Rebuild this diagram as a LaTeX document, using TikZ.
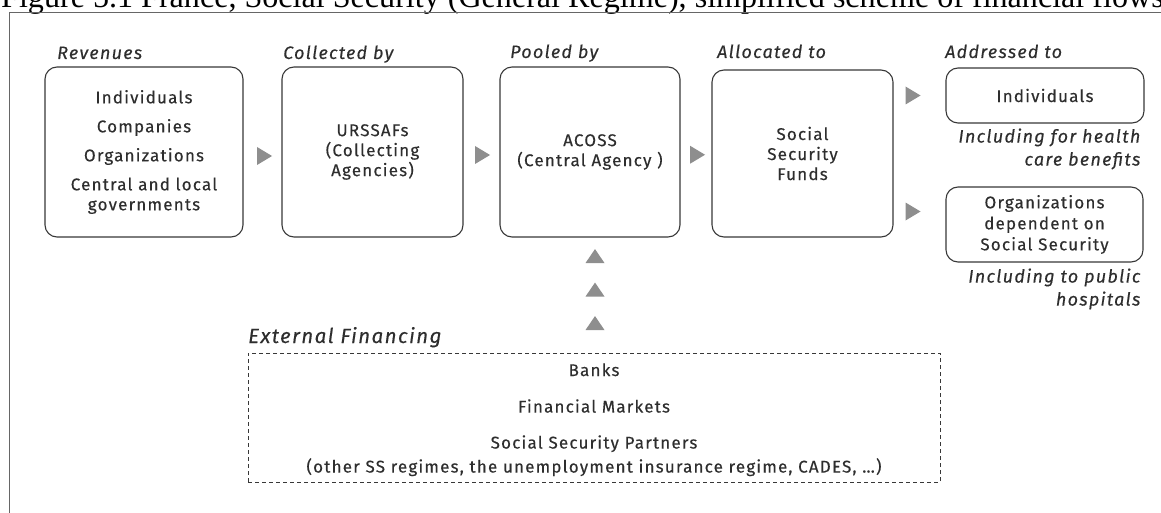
\documentclass[tikz,border=0pt]{standalone}
\usepackage{fontspec}
\setmainfont{Fira Sans}[LetterSpace=7,FakeBold=0.3]
\newfontfamily\titlefont{Liberation Serif}
\usetikzlibrary{calc}
\definecolor{txt}{HTML}{2E2E2E}
\definecolor{boxline}{HTML}{383838}
\definecolor{trigray}{HTML}{8E8E8E}
\definecolor{framegray}{HTML}{666666}
\newcommand\mybody{\fontsize{17}{20}\selectfont}
\newcommand\mylabel{\fontsize{18}{22}\selectfont\itshape}
\newcommand\mybig{\fontsize{20.5}{24}\selectfont\itshape}
\begin{document}
\begin{tikzpicture}[x=1pt,y=-1pt,
  box/.style={draw=boxline, line width=1.1pt, rounded corners=12pt, align=center, text=txt, inner sep=0pt, font=\mybody},
  lbl/.style={anchor=base west, inner sep=0pt, text=txt, font=\mylabel},
  captxt/.style={anchor=base east, inner sep=0pt, text=txt, font=\mylabel},
  etxt/.style={anchor=base, inner sep=0pt, text=txt, font=\mybody},
  rtri/.pic={\fill[trigray] (-7.5,-9) -- (7.5,0) -- (-7.5,9) -- cycle;},
  utri/.pic={\fill[trigray] (-9.5,7) -- (0,-7) -- (9.5,7) -- cycle;}
]
\useasboundingbox (0,0) rectangle (1161,513);
% title and frame
\node[anchor=base west, inner sep=0pt, font=\titlefont\fontsize{32.1}{36}\selectfont] (title) at (1,7.5)
  {Figure 5.1 France, Social Security (General Regime), simplified scheme of financial flows};
\coordinate (frbl) at (9.5,520);
\coordinate (frtl) at (9.5,12.5);
\coordinate (frtr) at (1170,12.5);
\draw[framegray, line width=1.3pt] (frbl) -- (frtl) -- (frtr);
% boxes
\node[box, minimum width=198, minimum height=170] (rev) at (144,152)
  {Individuals\\[9pt]Companies\\[9pt]Organizations\\[9pt]Central and local\\governments};
\node[box, minimum width=181, minimum height=170] (urs) at (372.5,152)
  {URSSAFs\\(Collecting\\Agencies)};
\node[box, minimum width=180, minimum height=170] (acoss) at (590,152)
  {ACOSS\\(Central Agency )};
\node[box, minimum width=181, minimum height=167] (funds) at (802.5,153.5)
  {Social\\Security\\Funds};
\node[box, minimum width=198, minimum height=55] (ind) at (1045,95.5)
  {Individuals};
\node[box, minimum width=197, minimum height=75] (org) at (1044.5,224.5)
  {Organizations\\[1pt]dependent on\\[1pt]Social Security};
\node[draw=boxline, line width=0.9pt, dash pattern=on 4pt off 3pt, inner sep=0pt,
      minimum width=692, minimum height=129] (ext) at (594,417.5) {};
\node[etxt] (e1) at ($(ext.north)+(0,23.5)$) {Banks};
\node[etxt] (e2) at ($(ext.north)+(0,60)$) {Financial Markets};
\node[etxt] (e3) at ($(ext.north)+(0,96)$) {Social Security Partners};
\node[etxt] (e4) at ($(ext.north)+(0,120)$) {(other SS regimes, the unemployment insurance regime, CADES, \ldots)};
% labels
\node[lbl] (lrev) at (57,59) {Revenues};
\node[lbl] (lurs) at (283,59) {Collected by};
\node[lbl] (lacoss) at (510,58) {Pooled by};
\node[lbl] (lfunds) at (717,58) {Allocated to};
\node[lbl] (lind) at (945,58) {Addressed to};
\node[lbl, font=\mybig] (lext) at (248,343) {External Financing};
\node[captxt] (cind1) at ($(ind.south east)+(-4,19)$) {Including for health};
\node[captxt] (cind2) at ($(ind.south east)+(-4,42)$) {care benefits};
\node[captxt] (corg1) at ($(org.south east)+(-3,20)$) {Including to public};
\node[captxt] (corg2) at ($(org.south east)+(-3,43)$) {hospitals};
% arrowheads
\pic at ($(rev.east)!0.5!(urs.west)+(2,4)$) {rtri};
\pic at ($(urs.east)!0.5!(acoss.west)+(1,3)$) {rtri};
\pic at ($(acoss.east)!0.5!(funds.west)+(1.5,2)$) {rtri};
\pic at ($(funds.east |- ind.west)+(19.5,0)$) {rtri};
\pic at ($(funds.east |- org.west)+(19.5,-13)$) {rtri};
\pic at ($(ext.north)+(1,-96.5)$) {utri};
\pic at ($(ext.north)+(1,-63)$) {utri};
\pic at ($(ext.north)+(1,-29.5)$) {utri};
\end{tikzpicture}
\end{document}
